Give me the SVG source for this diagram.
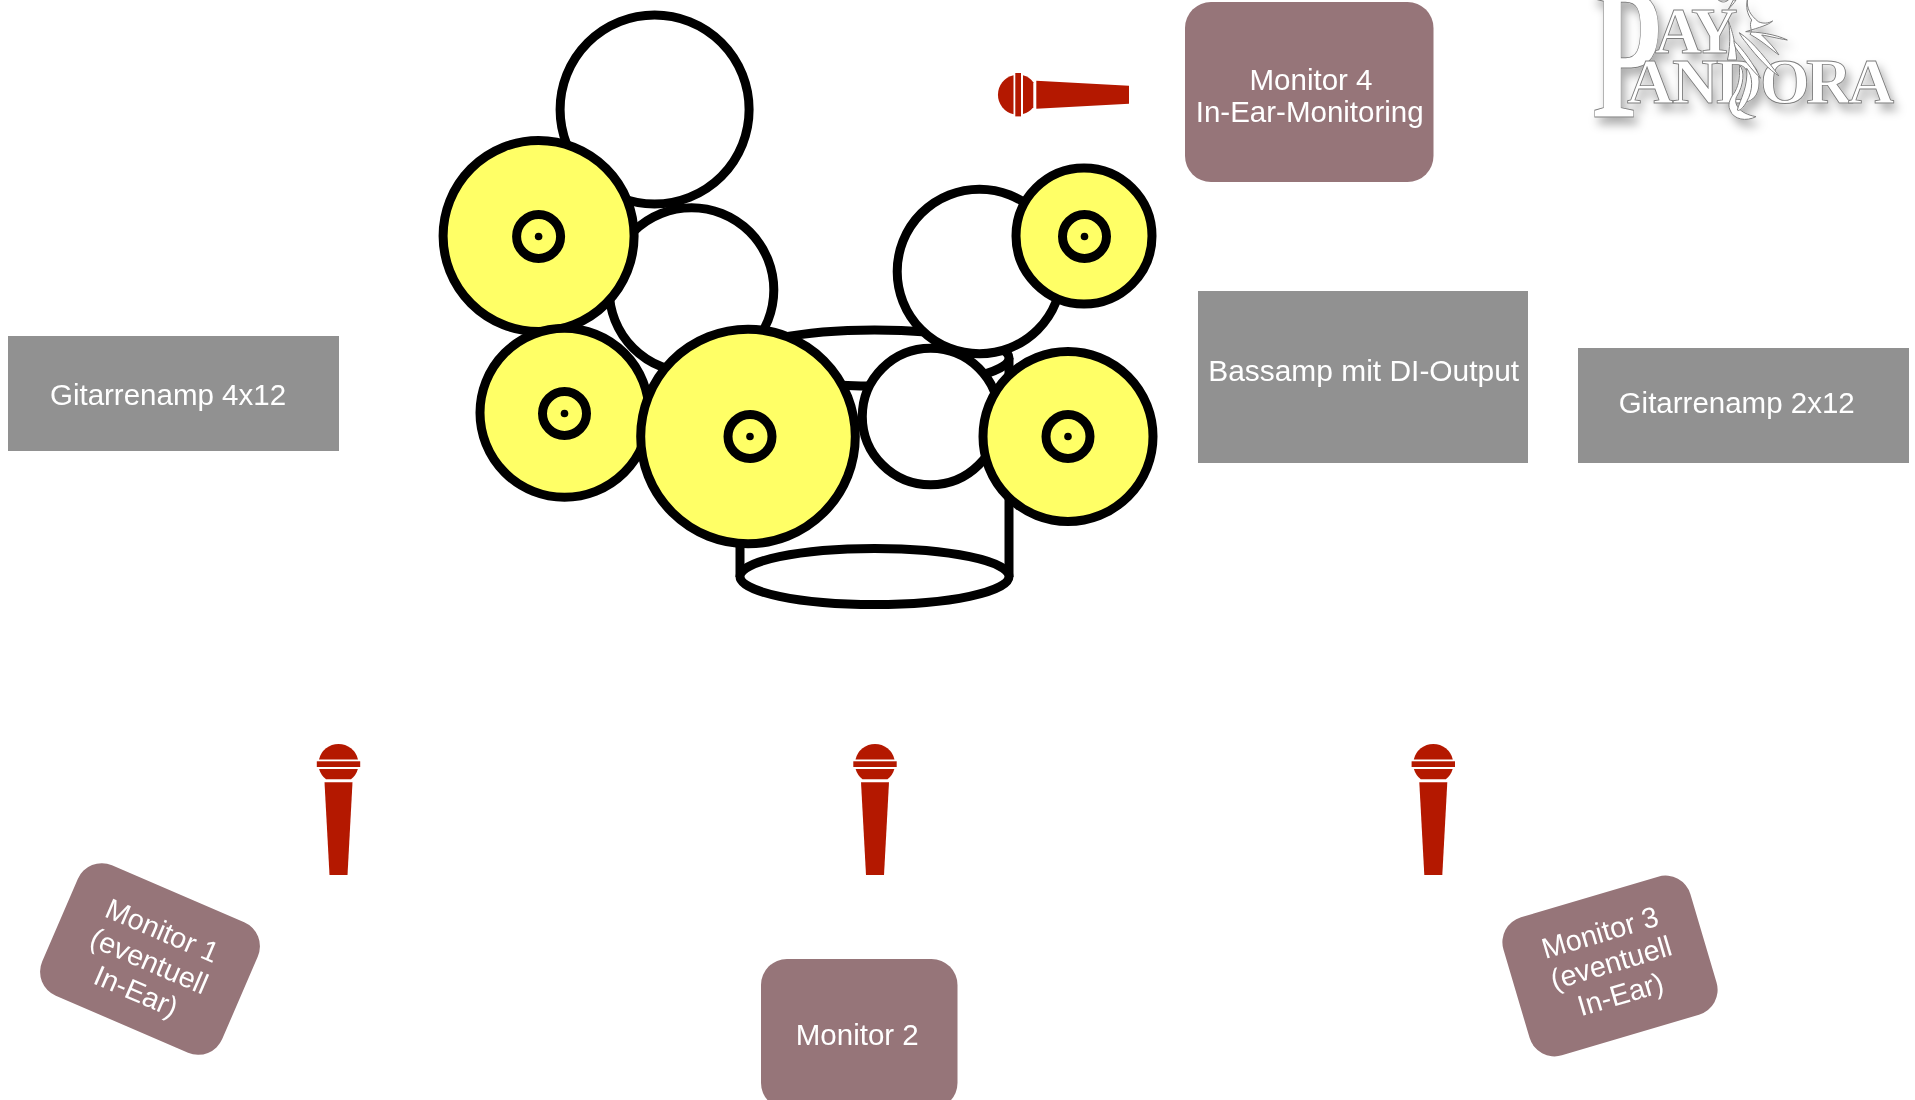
<svg xmlns="http://www.w3.org/2000/svg" xmlns:xlink="http://www.w3.org/1999/xlink" width="1915" height="1100" viewBox="0 0 1915 1100">
<style>
.amp{fill:#919191}
.mon{fill:#967579}
.t{font-family:"Liberation Sans",Arial,sans-serif;font-size:29.5px;fill:#fff;text-anchor:middle}
.s{font-size:28.8px}
.d{fill:#fff;stroke:#000;stroke-width:9}
.c{fill:#ffff66;stroke:#000;stroke-width:9}
.h{fill:none;stroke:#000;stroke-width:9}
.mic{fill:#b41800}
.lg{font-family:"Liberation Serif","Times New Roman",serif;font-weight:bold;fill:#fff;stroke:#7d7d7d;stroke-width:0.9}
.lp{fill:#fff;stroke:#7d7d7d;stroke-width:3}
</style>
<defs>
<filter id="sh" x="-20%" y="-20%" width="140%" height="150%"><feDropShadow dx="4" dy="7" stdDeviation="5" flood-color="#000" flood-opacity="0.32"/></filter>
<g id="micshape">
<path d="M-19.5 15.5A20 20 0 0 1 19.5 15.5Z"/>
<rect x="-21.7" y="17.3" width="43.4" height="5.7"/>
<path d="M-19.4 25H19.4A20 20 0 0 1 12.5 35.3H-12.5A20 20 0 0 1 -19.4 25Z"/>
<path d="M-14 38.3H14L9 131H-9Z"/>
</g>
<g id="cym">
<circle r="22" class="h"/>
<circle r="3.8" fill="#000"/>
</g>
</defs>
<g id="logo" filter="url(#sh)">
<text class="lg" font-size="190" transform="translate(1592 117) scale(0.6 1)" stroke-width="1.3">P</text>
<text class="lg" font-size="64.500" x="1655 1691" y="53.300">AY</text>
<text class="lg" font-size="64" x="1627 1672 1716 1760 1806 1848" y="103.300">ANDORA</text>
<g transform="translate(1700 0) scale(0.33333)">
<path class="lp" d="M142 0C140 25 150 45 175 65C190 72 205 70 218 63C205 75 180 82 137 95C175 96 225 102 262 120C230 115 205 108 185 105C205 125 225 145 237 165C215 150 190 125 150 103C160 90 145 80 155 60C140 40 138 20 142 0Z"/>
<path class="lp" d="M85 62C95 90 105 115 110 180L82 180C90 150 92 100 85 62Z"/>
<path class="lp" d="M118 98C160 125 205 185 237 228C210 212 170 170 140 130C130 118 122 108 118 98Z"/>
<path class="lp" d="M102 122C130 150 160 190 182 235C155 210 125 170 108 145C104 138 102 130 102 122Z"/>
<path class="lp" d="M118 195C135 210 132 255 110 290C100 310 115 340 168 350C140 365 100 360 90 330C80 310 95 290 105 275C118 250 120 225 118 195Z"/>
<path class="lp" d="M140 205C160 230 160 270 140 305C130 325 115 335 112 330C120 300 145 260 140 205Z"/>
<path class="lp" d="M55 0C65 8 75 8 85 0Z M100 0C95 10 90 20 85 28C92 20 102 10 108 0Z"/>
</g>
</g>
<g id="bass-drum">
<path class="h" d="M740 577V358M1009 577V358"/>
<ellipse class="d" cx="874.500" cy="358" rx="134.500" ry="28"/>
<ellipse class="d" cx="874.500" cy="576.500" rx="134.500" ry="28"/>
</g>
<g id="tom-1"><circle class="d" cx="654.600" cy="109.500" r="94.500"/></g>
<g id="tom-2"><circle class="d" cx="691.500" cy="290" r="82.300"/></g>
<g id="tom-3"><circle class="d" cx="979.500" cy="271.500" r="82.300"/></g>
<g id="snare"><circle class="d" cx="930.600" cy="416.500" r="68.300"/></g>
<g id="cymbal-1"><circle class="c" cx="538.600" cy="236" r="95.500"/><use xlink:href="#cym" href="#cym" x="538.600" y="236.500"/></g>
<g id="cymbal-2"><circle class="c" cx="564.500" cy="412.800" r="84.500"/><use xlink:href="#cym" href="#cym" x="564.500" y="413.500"/></g>
<g id="cymbal-3"><circle class="c" cx="748" cy="436.500" r="107.300"/><use xlink:href="#cym" href="#cym" x="750" y="436.500"/></g>
<g id="cymbal-4"><circle class="c" cx="1084" cy="236" r="68"/><use xlink:href="#cym" href="#cym" x="1084.500" y="236.500"/></g>
<g id="cymbal-5"><circle class="c" cx="1068" cy="436.500" r="85"/><use xlink:href="#cym" href="#cym" x="1068" y="436.500"/></g>
<g id="mic-4" class="mic" transform="translate(998 94.700) rotate(-90)"><use xlink:href="#micshape" href="#micshape"/></g>
<g id="mic-1" class="mic" transform="translate(338.500 744)"><use xlink:href="#micshape" href="#micshape"/></g>
<g id="mic-2" class="mic" transform="translate(875 744)"><use xlink:href="#micshape" href="#micshape"/></g>
<g id="mic-3" class="mic" transform="translate(1433.300 744)"><use xlink:href="#micshape" href="#micshape"/></g>
<g id="gitarrenamp-4x12"><rect class="amp" x="8" y="336" width="331" height="115"/><text class="t" x="168" y="405">Gitarrenamp 4x12</text></g>
<g id="bassamp"><rect class="amp" x="1198" y="291" width="330" height="172"/><text class="t" x="1363.700" y="381" textLength="311" lengthAdjust="spacingAndGlyphs">Bassamp mit DI-Output</text></g>
<g id="gitarrenamp-2x12"><rect class="amp" x="1578" y="348" width="331" height="115"/><text class="t" x="1736.700" y="412.500">Gitarrenamp 2x12</text></g>
<g id="monitor-4"><rect class="mon" x="1185" y="2" width="248.500" height="180" rx="26"/><text class="t" x="1311" y="89.500">Monitor 4</text><text class="t" x="1309.700" y="122">In-Ear-Monitoring</text></g>
<g id="monitor-2"><rect class="mon" x="761" y="959" width="196.500" height="150" rx="26"/><text class="t" x="857.300" y="1045">Monitor 2</text></g>
<g id="monitor-1" transform="translate(150 959) rotate(23.3)"><rect class="mon" x="-98" y="-71" width="196" height="142" rx="26"/><text class="t s" y="-21">Monitor 1</text><text class="t s" y="12">(eventuell</text><text class="t s" y="45">In-Ear)</text></g>
<g id="monitor-3" transform="translate(1610 966) rotate(-16.5)"><rect class="mon" x="-97.500" y="-72" width="195" height="144" rx="26"/><text class="t s" y="-25">Monitor 3</text><text class="t s" x="2" y="7">(eventuell</text><text class="t s" x="2" y="40">In-Ear)</text></g>
<g id="connectors"></g>
</svg>
